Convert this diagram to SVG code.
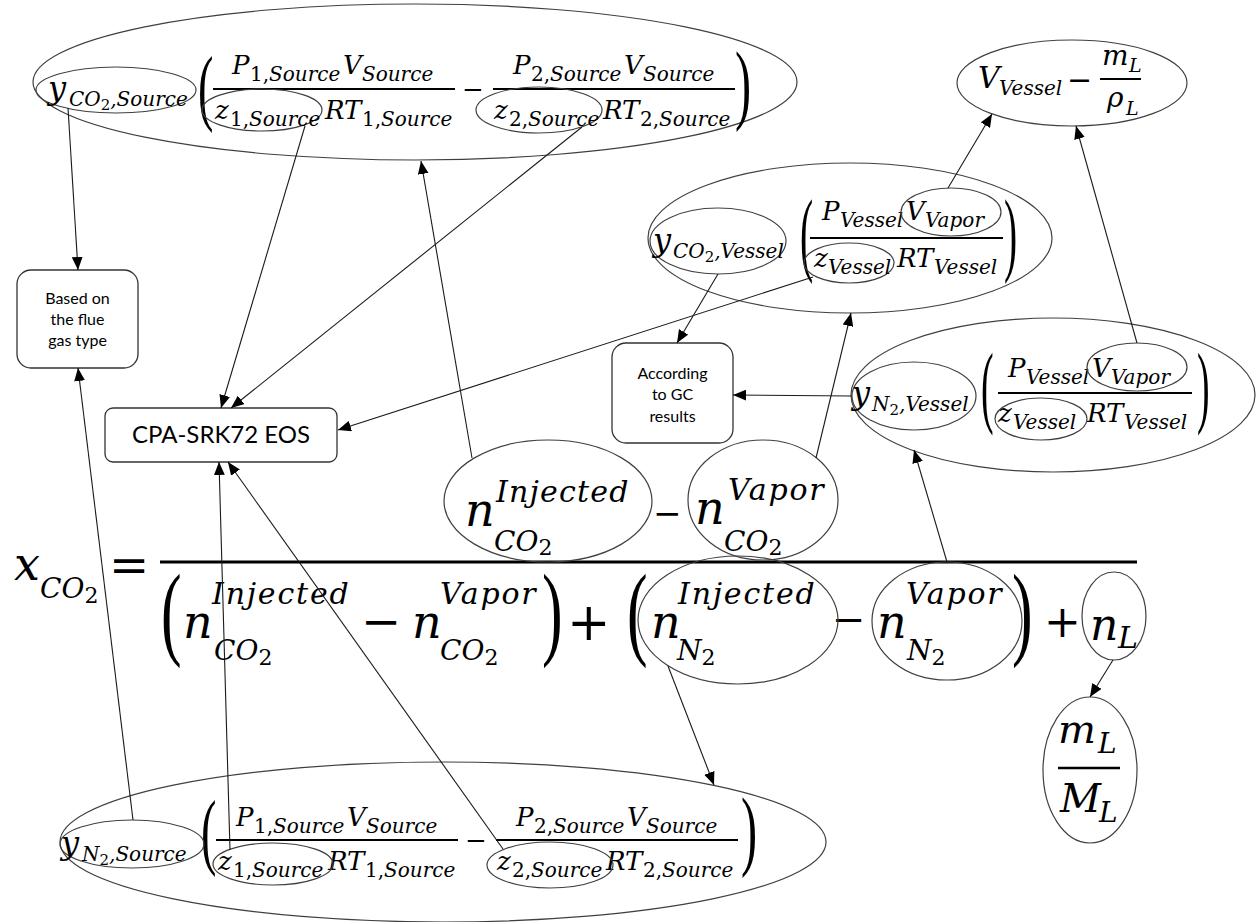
<svg xmlns="http://www.w3.org/2000/svg" width="1256" height="922" viewBox="0 0 1256 922">
<defs>
<style>
.m{font-family:"DejaVu Serif",serif;font-style:italic;fill:#000}
.u{font-style:normal}
.p{font-family:"Liberation Serif",serif;font-style:normal;fill:#000}
.e{fill:none;stroke:#404040;stroke-width:1.2}
.bar{stroke:#000;stroke-width:2}
.bar3{stroke:#000;stroke-width:3}
.box{fill:#fff;stroke:#333;stroke-width:1.3}
.t{font-family:Lato,"Liberation Sans",sans-serif;fill:#000;text-anchor:middle}
.c{fill:none;stroke:#1a1a1a;stroke-width:1.1;marker-end:url(#ah)}
</style>
<marker id="ah" viewBox="0 0 12 10" refX="12" refY="5" markerWidth="13" markerHeight="11" markerUnits="userSpaceOnUse" orient="auto"><path d="M0,0L12,5L0,10z" fill="#000"/></marker>
</defs>
<rect width="1256" height="922" fill="#fff"/>

<!-- Top: y_CO2,Source formula -->
<g id="n-co2-source">
<ellipse class="e" cx="415" cy="82" rx="382" ry="78"/>
<text class="p" font-size="84" transform="translate(198,115) scale(0.55,1)">(</text>
<line class="bar" x1="213" y1="89" x2="455" y2="89"/>
<text class="m" font-size="26"><tspan x="232" y="74">P</tspan><tspan font-size="20" x="250" y="81"><tspan class="u">1,</tspan>Source</tspan><tspan x="343" y="74">V</tspan><tspan font-size="20" x="362" y="81">Source</tspan></text>
<text class="m u" font-size="26" x="462" y="98">−</text>
<line class="bar" x1="493" y1="89" x2="735" y2="89"/>
<text class="m" font-size="26"><tspan x="513" y="74">P</tspan><tspan font-size="20" x="531" y="81"><tspan class="u">2,</tspan>Source</tspan><tspan x="624" y="74">V</tspan><tspan font-size="20" x="643" y="81">Source</tspan></text>
<text class="m" font-size="26"><tspan x="603" y="119">RT</tspan><tspan font-size="20" x="640" y="126"><tspan class="u">2,</tspan>Source</tspan></text>
<text class="m" font-size="26"><tspan x="325" y="119">RT</tspan><tspan font-size="20" x="362" y="126"><tspan class="u">1,</tspan>Source</tspan></text>
<text class="p" font-size="88" transform="translate(735,113) scale(0.55,1)">)</text>
</g>
<g id="n-y-co2-source">
<ellipse class="e" cx="116" cy="90" rx="80" ry="23"/>
<text class="m" font-size="32"><tspan x="48" y="99">y</tspan><tspan font-size="20" x="69" y="106">CO</tspan><tspan class="u" font-size="15" y="110">2</tspan><tspan font-size="20" y="106">,Source</tspan></text>
</g>
<g id="n-z1-source-top">
<ellipse class="e" cx="262" cy="110" rx="60" ry="21"/>
<text class="m" font-size="26"><tspan x="215" y="119">z</tspan><tspan font-size="20" x="230" y="126"><tspan class="u">1,</tspan>Source</tspan></text>
</g>
<g id="n-z2-source-top">
<ellipse class="e" cx="539" cy="110" rx="63" ry="23"/>
<text class="m" font-size="26"><tspan x="494" y="119">z</tspan><tspan font-size="20" x="509" y="126"><tspan class="u">2,</tspan>Source</tspan></text>
</g>

<!-- V_Vessel - m_L/rho_L -->
<g id="n-vvapor-calc">
<ellipse class="e" cx="1072" cy="83" rx="115" ry="43"/>
<text class="m" font-size="30"><tspan x="978" y="88">V</tspan><tspan font-size="20" x="999" y="95">Vessel</tspan></text>
<text class="m u" font-size="30" x="1067" y="90">−</text>
<text class="m" font-size="28"><tspan x="1102" y="65">m</tspan><tspan font-size="19" x="1129" y="72">L</tspan></text>
<line class="bar" x1="1100" y1="79" x2="1141" y2="79"/>
<text class="m" font-size="28"><tspan x="1107" y="107">ρ</tspan><tspan font-size="19" x="1126" y="115">L</tspan></text>
</g>

<!-- CO2 vessel -->
<g id="n-co2-vessel">
<ellipse class="e" cx="850" cy="238" rx="202" ry="75"/>
<text class="p" font-size="94" transform="translate(800,264) scale(0.42,1)">(</text>
<text class="m" font-size="26"><tspan x="822" y="220">P</tspan><tspan font-size="20" x="840" y="227">Vessel</tspan></text>
<line class="bar" x1="810" y1="238" x2="1003" y2="238"/>
<text class="m" font-size="26"><tspan x="897" y="267">RT</tspan><tspan font-size="20" x="934" y="274">Vessel</tspan></text>
<text class="p" font-size="94" transform="translate(1004,264) scale(0.42,1)">)</text>
</g>
<g id="n-y-co2-vessel">
<ellipse class="e" cx="718" cy="241" rx="68" ry="33"/>
<text class="m" font-size="32"><tspan x="653" y="251">y</tspan><tspan font-size="20" x="673" y="258">CO</tspan><tspan class="u" font-size="15" y="262">2</tspan><tspan font-size="20" y="258">,Vessel</tspan></text>
</g>
<g id="n-z-co2-vessel">
<ellipse class="e" cx="849" cy="263" rx="45" ry="20"/>
<text class="m" font-size="26"><tspan x="814" y="267">z</tspan><tspan font-size="20" x="828" y="274">Vessel</tspan></text>
</g>
<g id="n-vvapor-co2">
<ellipse class="e" cx="951" cy="212" rx="50" ry="24"/>
<text class="m" font-size="26"><tspan x="906" y="220">V</tspan><tspan font-size="20" x="925" y="227">Vapor</tspan></text>
</g>

<!-- N2 vessel -->
<g id="n-n2-vessel">
<ellipse class="e" cx="1053" cy="395" rx="202" ry="77"/>
<text class="p" font-size="90" transform="translate(981,416) scale(0.42,1)">(</text>
<text class="m" font-size="26"><tspan x="1008" y="377">P</tspan><tspan font-size="20" x="1026" y="384">Vessel</tspan></text>
<line class="bar" x1="998" y1="393" x2="1192" y2="393"/>
<text class="m" font-size="26"><tspan x="1087" y="422">RT</tspan><tspan font-size="20" x="1124" y="429">Vessel</tspan></text>
<text class="p" font-size="90" transform="translate(1197,416) scale(0.42,1)">)</text>
</g>
<g id="n-y-n2-vessel">
<ellipse class="e" cx="914" cy="396" rx="62" ry="34"/>
<text class="m" font-size="32"><tspan x="852" y="404">y</tspan><tspan font-size="20" x="872" y="411">N</tspan><tspan class="u" font-size="15" y="415">2</tspan><tspan font-size="20" y="411">,Vessel</tspan></text>
</g>
<g id="n-z-n2-vessel">
<ellipse class="e" cx="1041" cy="419" rx="46" ry="21"/>
<text class="m" font-size="26"><tspan x="998" y="422">z</tspan><tspan font-size="20" x="1013" y="429">Vessel</tspan></text>
</g>
<g id="n-vvapor-n2">
<ellipse class="e" cx="1137" cy="367" rx="50" ry="24"/>
<text class="m" font-size="26"><tspan x="1092" y="377">V</tspan><tspan font-size="20" x="1111" y="384">Vapor</tspan></text>
</g>

<!-- Boxes -->
<g id="n-flue">
<rect class="box" x="17" y="270" width="121" height="98" rx="14"/>
<text class="t" font-size="16"><tspan x="77.5" y="304">Based on</tspan><tspan x="77.5" y="325">the flue</tspan><tspan x="77.5" y="346">gas type</tspan></text>
</g>
<g id="n-gc">
<rect class="box" x="612" y="343" width="121" height="100" rx="14"/>
<text class="t" font-size="16"><tspan x="672.5" y="379">According</tspan><tspan x="672.5" y="400">to GC</tspan><tspan x="672.5" y="422">results</tspan></text>
</g>
<g id="n-eos">
<rect class="box" x="105" y="408" width="232" height="54" rx="8"/>
<text class="t" font-size="24" x="221" y="443">CPA-SRK72 EOS</text>
</g>

<!-- Main equation -->
<g id="eq-main">
<text class="m" font-size="46"><tspan x="14" y="580">x</tspan><tspan font-size="28" x="40" y="598">CO</tspan><tspan class="u" font-size="22" y="603">2</tspan></text>
<text class="m u" font-size="48" x="109" y="582">=</text>
<line class="bar3" x1="160" y1="562" x2="1137" y2="562"/>
<text class="m u" font-size="34" x="653" y="525">−</text>
<text class="p" font-size="103" transform="translate(161,646) scale(0.6,1)">(</text>
<text class="m" font-size="46"><tspan x="183" y="638">n</tspan><tspan font-size="30" x="212" y="604" letter-spacing="1.8">Injected</tspan><tspan font-size="28" x="214" y="660">CO</tspan><tspan class="u" font-size="22" y="665">2</tspan></text>
<text class="m u" font-size="48" x="361" y="638">−</text>
<text class="m" font-size="46"><tspan x="412" y="638">n</tspan><tspan font-size="30" x="440" y="604" letter-spacing="1.8">Vapor</tspan><tspan font-size="28" x="440" y="660">CO</tspan><tspan class="u" font-size="22" y="665">2</tspan></text>
<text class="p" font-size="103" transform="translate(542,646) scale(0.6,1)">)</text>
<text class="m u" font-size="52" x="567" y="640">+</text>
<text class="p" font-size="103" transform="translate(627,646) scale(0.6,1)">(</text>
<text class="m u" font-size="40" x="832" y="633">−</text>
<text class="p" font-size="103" transform="translate(1012,646) scale(0.6,1)">)</text>
<text class="m u" font-size="44" x="1044" y="637">+</text>
</g>
<g id="n-inj-co2">
<ellipse class="e" cx="548" cy="501" rx="104" ry="61"/>
<text class="m" font-size="46"><tspan x="465" y="526">n</tspan><tspan font-size="30" x="496" y="502" letter-spacing="1.2">Injected</tspan><tspan font-size="28" x="494" y="551">CO</tspan><tspan class="u" font-size="22" y="555">2</tspan></text>
</g>
<g id="n-vap-co2">
<ellipse class="e" cx="763" cy="500" rx="75" ry="60"/>
<text class="m" font-size="46"><tspan x="695" y="524">n</tspan><tspan font-size="30" x="728" y="500" letter-spacing="1.8">Vapor</tspan><tspan font-size="28" x="724" y="551">CO</tspan><tspan class="u" font-size="22" y="555">2</tspan></text>
</g>
<g id="n-inj-n2">
<ellipse class="e" cx="738" cy="620" rx="100" ry="64"/>
<text class="m" font-size="46"><tspan x="651" y="638">n</tspan><tspan font-size="30" x="678" y="604" letter-spacing="1.8">Injected</tspan><tspan font-size="28" x="677" y="660">N</tspan><tspan class="u" font-size="22" y="665">2</tspan></text>
</g>
<g id="n-vap-n2">
<ellipse class="e" cx="947" cy="621" rx="75" ry="59"/>
<text class="m" font-size="46"><tspan x="877" y="638">n</tspan><tspan font-size="30" x="906" y="604" letter-spacing="1.8">Vapor</tspan><tspan font-size="28" x="907" y="660">N</tspan><tspan class="u" font-size="22" y="665">2</tspan></text>
</g>
<g id="n-nl">
<ellipse class="e" cx="1114" cy="616" rx="32" ry="44"/>
<text class="m" font-size="44"><tspan x="1090" y="640">n</tspan><tspan font-size="30" x="1118" y="648">L</tspan></text>
</g>
<g id="n-ml-ML">
<ellipse class="e" cx="1090" cy="770" rx="47" ry="73"/>
<text class="m" font-size="40"><tspan x="1058" y="743">m</tspan><tspan font-size="28" x="1098" y="753">L</tspan></text>
<line class="bar" x1="1058" y1="768" x2="1120" y2="768" style="stroke-width:2.5"/>
<text class="m" font-size="40"><tspan x="1060" y="812">M</tspan><tspan font-size="28" x="1099" y="822">L</tspan></text>
</g>

<!-- Bottom: y_N2,Source formula -->
<g id="n-n2-source">
<ellipse class="e" cx="443" cy="842" rx="383" ry="80"/>
<text class="p" font-size="84" transform="translate(201,859) scale(0.55,1)">(</text>
<line class="bar" x1="216" y1="840" x2="458" y2="840"/>
<text class="m" font-size="26"><tspan x="236" y="826">P</tspan><tspan font-size="20" x="254" y="833"><tspan class="u">1,</tspan>Source</tspan><tspan x="347" y="826">V</tspan><tspan font-size="20" x="366" y="833">Source</tspan></text>
<text class="m" font-size="26"><tspan x="328" y="870">RT</tspan><tspan font-size="20" x="365" y="877"><tspan class="u">1,</tspan>Source</tspan></text>
<text class="m u" font-size="26" x="465" y="849">−</text>
<line class="bar" x1="496" y1="840" x2="738" y2="840"/>
<text class="m" font-size="26"><tspan x="516" y="826">P</tspan><tspan font-size="20" x="534" y="833"><tspan class="u">2,</tspan>Source</tspan><tspan x="627" y="826">V</tspan><tspan font-size="20" x="646" y="833">Source</tspan></text>
<text class="m" font-size="26"><tspan x="606" y="870">RT</tspan><tspan font-size="20" x="643" y="877"><tspan class="u">2,</tspan>Source</tspan></text>
<text class="p" font-size="88" transform="translate(741,859) scale(0.55,1)">)</text>
</g>
<g id="n-y-n2-source">
<ellipse class="e" cx="132" cy="844" rx="72" ry="24"/>
<text class="m" font-size="32"><tspan x="61" y="854">y</tspan><tspan font-size="20" x="82" y="861">N</tspan><tspan class="u" font-size="15" y="865">2</tspan><tspan font-size="20" y="861">,Source</tspan></text>
</g>
<g id="n-z1-source-bot">
<ellipse class="e" cx="273" cy="864" rx="60" ry="21"/>
<text class="m" font-size="26"><tspan x="218" y="870">z</tspan><tspan font-size="20" x="233" y="877"><tspan class="u">1,</tspan>Source</tspan></text>
</g>
<g id="n-z2-source-bot">
<ellipse class="e" cx="550" cy="865" rx="63" ry="23"/>
<text class="m" font-size="26"><tspan x="497" y="870">z</tspan><tspan font-size="20" x="512" y="877"><tspan class="u">2,</tspan>Source</tspan></text>
</g>

<!-- Connectors -->
<g id="connectors">
<line class="c" x1="68" y1="108" x2="78" y2="270"/>
<line class="c" x1="305" y1="126" x2="221" y2="408"/>
<line class="c" x1="582" y1="127" x2="231" y2="408"/>
<line class="c" x1="813" y1="277" x2="338" y2="430"/>
<line class="c" x1="718" y1="274" x2="677" y2="343"/>
<line class="c" x1="472" y1="458" x2="421" y2="161"/>
<line class="c" x1="816" y1="458" x2="851" y2="313"/>
<line class="c" x1="948" y1="188" x2="992" y2="114"/>
<line class="c" x1="1137" y1="343" x2="1076" y2="126"/>
<line class="c" x1="852" y1="396" x2="733" y2="395"/>
<line class="c" x1="947" y1="562" x2="914" y2="450"/>
<line class="c" x1="668" y1="666" x2="714" y2="785"/>
<line class="c" x1="1113" y1="660" x2="1090" y2="697"/>
<line class="c" x1="133" y1="820" x2="78" y2="368"/>
<line class="c" x1="230" y1="850" x2="219" y2="462"/>
<line class="c" x1="503" y1="849" x2="228" y2="462"/>
</g>
</svg>
